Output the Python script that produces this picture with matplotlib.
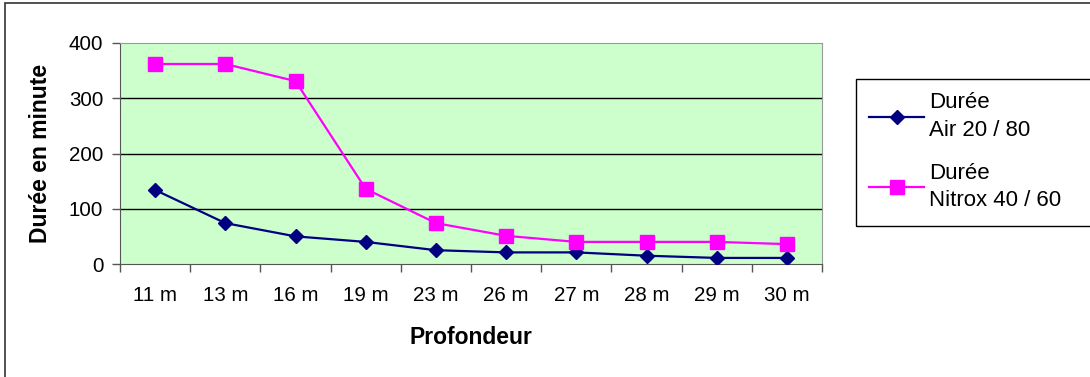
import matplotlib
matplotlib.use("Agg")
import matplotlib.pyplot as plt
from matplotlib.patches import Rectangle
import numpy as np

categories = ["11 m", "13 m", "16 m", "19 m", "23 m", "26 m", "27 m", "28 m", "29 m", "30 m"]
air = [134, 74, 50, 40, 25, 21, 21, 15, 11, 11]
nitrox = [362, 362, 331, 136, 74, 51, 40, 40, 40, 36]
yticks = [0, 100, 200, 300, 400]

plt.rcParams['font.family'] = ['Liberation Sans', 'DejaVu Sans']

W, H = 1090, 377
FS = 14.8
FL = 16.5
fig = plt.figure(figsize=(W / 100, H / 100), dpi=100)
ax = fig.add_axes([120 / W, 1 - 264 / H, (822 - 120) / W, (264 - 43) / H])
ax.set_facecolor('#ccffcc')

x = np.arange(len(categories))
ax.plot(x, air, color='#000080', marker='D', markersize=7.5, linewidth=1.6,
        label='Durée\nAir 20 / 80', zorder=3)
ax.plot(x, nitrox, color='#ff00ff', marker='s', markersize=10, linewidth=1.6,
        label='Durée\nNitrox 40 / 60', zorder=3)

ax.set_xlim(-0.5, len(categories) - 0.5)
ax.set_ylim(0, 400)
ax.set_yticks(yticks)
ax.set_yticklabels([str(v) for v in yticks], fontsize=FS)
ax.set_xticks(x)
ax.set_xticklabels(categories, fontsize=FS)
ax.set_xticks(np.arange(-0.5, len(categories), 1), minor=True)
ax.tick_params(axis='x', which='major', length=0, pad=16)
ax.tick_params(axis='x', which='minor', length=6, width=1, color='#555555')
ax.tick_params(axis='y', length=6, width=1, color='#555555', pad=6)
for v in yticks[1:-1]:
    ax.axhline(v, color='black', linewidth=1, zorder=1)

ax.spines['left'].set_color('#555555')
ax.spines['bottom'].set_color('#555555')
ax.spines['top'].set_color('#999999')
ax.spines['right'].set_color('#999999')

ax.set_ylabel('Durée en minute', fontsize=FL, fontweight='bold', labelpad=12)
ax.set_xlabel('Profondeur', fontsize=FL, fontweight='bold', labelpad=15)

leg = fig.legend(loc='upper left', bbox_to_anchor=(856 / W, 1 - 79 / H),
                 fontsize=16, frameon=False,
                 handlelength=2.45, labelspacing=1.0, borderpad=0.6,
                 handletextpad=0.22, borderaxespad=0)
for t in leg.get_texts():
    t.set_linespacing(1.4)

# legend box extending to the right edge
fig.patches.append(Rectangle((856 / W, 1 - 226 / H), (1100 - 856) / W, (226 - 79) / H,
                             transform=fig.transFigure, fill=False,
                             edgecolor='black', linewidth=1))

# outer chart border
fig.patches.append(Rectangle((5 / W, -0.01), (1100 - 5) / W, 1 - 3 / H + 0.01,
                             transform=fig.transFigure, fill=False,
                             edgecolor='#333333', linewidth=1.2))

fig.savefig('out.png', dpi=100)
